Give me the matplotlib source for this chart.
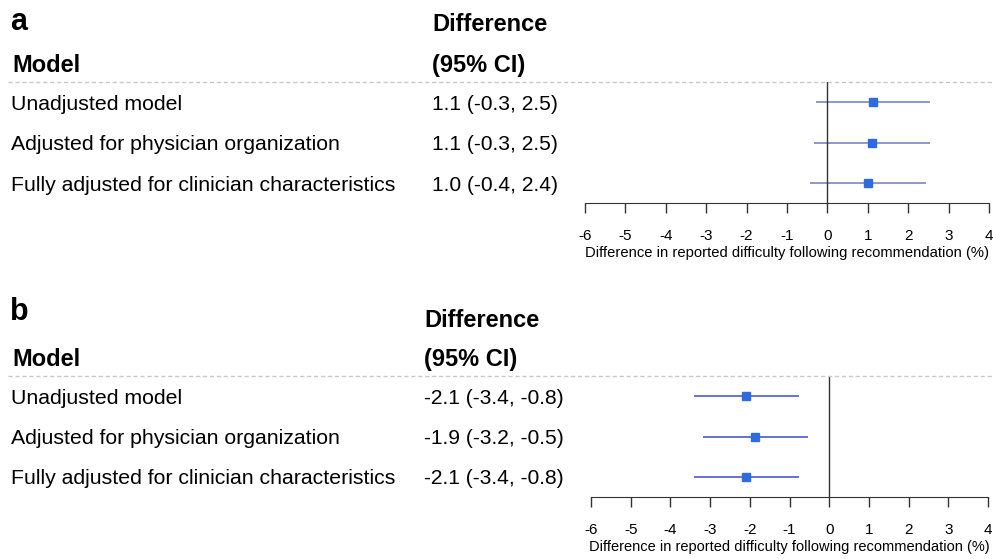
import matplotlib.pyplot as plt
from matplotlib.lines import Line2D

plt.rcParams['font.family'] = ['Liberation Sans', 'DejaVu Sans']

models = ["Unadjusted model",
          "Adjusted for physician organization",
          "Fully adjusted for clinician characteristics"]

# panel a
a_est = [1.13, 1.10, 1.00]
a_lo = [-0.27, -0.34, -0.43]
a_hi = [2.53, 2.55, 2.43]
a_txt = ["1.1 (-0.3, 2.5)", "1.1 (-0.3, 2.5)", "1.0 (-0.4, 2.4)"]

# panel b
b_est = [-2.10, -1.86, -2.09]
b_lo = [-3.40, -3.17, -3.40]
b_hi = [-0.77, -0.54, -0.77]
b_txt = ["-2.1 (-3.4, -0.8)", "-1.9 (-3.2, -0.5)", "-2.1 (-3.4, -0.8)"]

xticks = [-6, -5, -4, -3, -2, -1, 0, 1, 2, 3, 4]
xlabel = "Difference in reported difficulty following recommendation (%)"

W, H = 993, 559
fig = plt.figure(figsize=(W / 100, H / 100), dpi=100)


def fx(px):
    return px / W


def fy(py):
    return 1 - py / H


def panel(letter, est, lo, hi, txt, x0, x1, top, bottom, rows_y, head_y, val_x,
          letter_y, diff_y, xl_fs, line_col):
    ax = fig.add_axes([fx(x0), fy(bottom), fx(x1 - x0), (bottom - top) / H])
    ys = list(range(len(est)))
    ax.hlines(ys, lo, hi, color=line_col, lw=1.2, zorder=2)
    ax.plot(est, ys, 's', color='#2f6be0', ms=6, zorder=3)
    ax.axvline(0, color='#333333', lw=1)
    ax.set_xlim(-6, 4)
    ax.set_ylim(2.5, -0.5)
    for s in ['top', 'right', 'left']:
        ax.spines[s].set_visible(False)
    ax.spines['bottom'].set_color('#333333')
    ax.set_yticks([])
    ax.set_xticks(xticks)
    ax.set_xticklabels([str(t) for t in xticks])
    ax.tick_params(axis='x', length=7, width=1, color='#333333', pad=12, labelsize=11)
    ax.set_xlabel(xlabel, fontsize=xl_fs, labelpad=2)

    fig.add_artist(Line2D([fx(8), fx(992)], [fy(top), fy(top)], color='#c8c8c8',
                          lw=1, ls=(0, (3, 2))))
    fig.text(fx(10), fy(letter_y), letter, fontsize=22, fontweight='bold',
             va='center_baseline')
    fig.text(fx(val_x), fy(diff_y), "Difference", fontsize=17, fontweight='bold',
             va='center_baseline')
    fig.text(fx(12), fy(head_y), "Model", fontsize=17, fontweight='bold',
             va='center_baseline')
    fig.text(fx(val_x), fy(head_y), "(95% CI)", fontsize=17, fontweight='bold',
             va='center_baseline')
    for m, t, y in zip(models, txt, rows_y):
        fig.text(fx(11), fy(y), m, fontsize=15.3, va='center_baseline')
        fig.text(fx(val_x), fy(y), t, fontsize=15.1, va='center_baseline')


panel("a", a_est, a_lo, a_hi, a_txt, 585, 989, 82, 203, [103, 143, 184], 63, 432,
      18, 22, 10.65, '#7a86c4')
panel("b", b_est, b_lo, b_hi, b_txt, 591, 988, 376, 497, [397, 437, 477], 357, 424,
      308, 318, 10.5, '#4a5ad0')

fig.savefig("out.png", dpi=100)
